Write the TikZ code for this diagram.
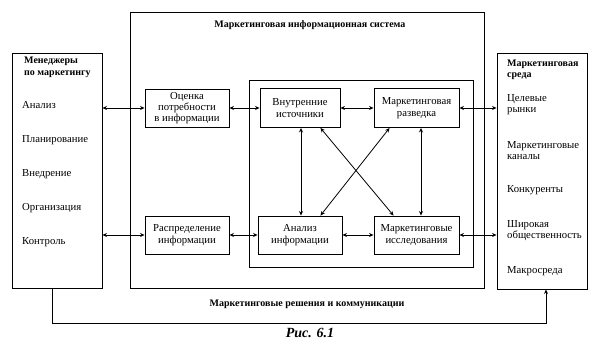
\documentclass[tikz,border=0pt]{standalone}
\usepackage{fontspec}
\setmainfont{Liberation Serif}
\usetikzlibrary{arrows.meta}
\begin{document}
\begin{tikzpicture}[x=1pt,y=-1pt,
  txt/.style={font=\fontsize{10.7}{11.5}\selectfont,inner sep=0pt},
  hd/.style={font=\fontsize{10}{11.5}\selectfont\bfseries,inner sep=0pt},
  box/.style={draw,line width=0.9pt,inner sep=0pt,align=center,font=\fontsize{10.7}{11.3}\selectfont},
  frame/.style={draw,line width=0.9pt,inner sep=0pt},
  link/.style={line width=0.8pt,{Stealth[length=4.5pt,width=4pt]}-{Stealth[length=4.5pt,width=4pt]}},
  onelink/.style={line width=0.8pt,-{Stealth[length=4.5pt,width=4pt]}}]
\useasboundingbox (0,0) rectangle (600,351);
% frames
\node[frame,minimum width=354pt,minimum height=276pt] (mis) at (307,150) {};
\node[frame,minimum width=224pt,minimum height=187pt] (inner) at (361,173.5) {};
\node[frame,minimum width=90pt,minimum height=235pt] (left) at (57,170.5) {};
\node[frame,minimum width=90pt,minimum height=236pt] (right) at (542,171) {};
% titles
\node[hd] (mistitle) at (310,25) {Маркетинговая информационная система};
\node[hd] (bottomlabel) at (307,304) {Маркетинговые решения и коммуникации};
\node[font=\fontsize{14}{15}\selectfont\bfseries\itshape,inner sep=0pt] (caption) at (310,333) {Рис. 6.1};
% left box text
\node[hd,anchor=west,align=left] (lhead) at (24,67.5) {Менеджеры\\по маркетингу};
\node[txt,anchor=west] (l1) at (22,105) {Анализ};
\node[txt,anchor=west] (l2) at (22,140) {Планирование};
\node[txt,anchor=west] (l3) at (22,174) {Внедрение};
\node[txt,anchor=west] (l4) at (22,208) {Организация};
\node[txt,anchor=west] (l5) at (22,242) {Контроль};
% right box text
\node[hd,anchor=west,align=left] (rhead) at (507,70) {Маркетинговая\\среда};
\node[txt,anchor=west,align=left] (r1) at (507,104.5) {Целевые\\рынки};
\node[txt,anchor=west,align=left] (r2) at (507,150.5) {Маркетинговые\\каналы};
\node[txt,anchor=west] (r3) at (507,190) {Конкуренты};
\node[txt,anchor=west,align=left] (r4) at (507,230.5) {Широкая\\общественность};
\node[txt,anchor=west] (r5) at (507,271) {Макросреда};
% boxes
\node[box,minimum width=84pt,minimum height=38pt] (ocenka) at (187,108) {Оценка\\потребности\\в информации};
\node[box,minimum width=80pt,minimum height=39pt] (vnutr) at (300,108) {Внутренние\\источники};
\node[box,minimum width=85pt,minimum height=39pt] (razv) at (416.5,108) {Маркетинговая\\разведка};
\node[box,minimum width=84pt,minimum height=38pt] (raspr) at (187,235) {Распределение\\информации};
\node[box,minimum width=84pt,minimum height=38pt] (analiz) at (300,235) {Анализ\\информации};
\node[box,minimum width=85pt,minimum height=38pt] (issl) at (416.5,235) {Маркетинговые\\исследования};
% connectors
\draw[link] (left.east |- ocenka.west) -- (ocenka.west);
\draw[link] (ocenka.east) -- (vnutr.west);
\draw[link] (vnutr.east) -- (razv.west);
\draw[link] (razv.east) -- (right.west |- razv.east);
\draw[link] (left.east |- raspr.west) -- (raspr.west);
\draw[link] (raspr.east) -- (analiz.west);
\draw[link] (analiz.east) -- (issl.west);
\draw[link] (issl.east) -- (right.west |- issl.east);
\draw[link] ([xshift=1pt]vnutr.south) -- ([xshift=1pt]analiz.north);
\draw[link] ([xshift=4.5pt]razv.south) -- ([xshift=4.5pt]issl.north);
\draw[link] ([xshift=-20pt]vnutr.south east) -- ([xshift=20pt]issl.north west);
\draw[link] ([xshift=16pt]razv.south west) -- ([xshift=-22pt]analiz.north east);
\draw[onelink] ([xshift=-5pt]left.south) -- ++(0,35) -| ([xshift=4pt]right.south);
\end{tikzpicture}
\end{document}
